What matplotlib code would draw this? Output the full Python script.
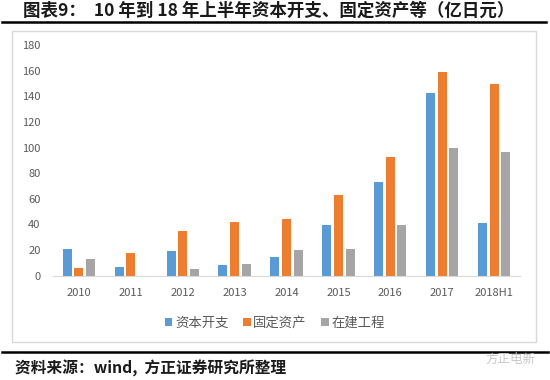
import matplotlib
matplotlib.use('Agg')
import matplotlib.pyplot as plt
from matplotlib.patches import Rectangle
from matplotlib.lines import Line2D
import numpy as np

plt.rcParams['font.family'] = ['Noto Sans CJK SC', 'DejaVu Sans']

# ── Data (亿日元) ──────────────────────────────────────────────────────────
years = ['2010', '2011', '2012', '2013', '2014', '2015', '2016', '2017', '2018H1']
capex = [21, 7, 19, 8, 15, 40, 73, 143, 41]          # 资本开支
fixed_assets = [6, 18, 35, 42, 44, 63, 93, 159, 150]  # 固定资产
in_progress = [13, 0, 5, 9, 20, 21, 40, 100, 97]      # 在建工程

series = [('资本开支', capex, '#5B9BD5'),
          ('固定资产', fixed_assets, '#ED7D31'),
          ('在建工程', in_progress, '#A5A5A5')]

W, H = 550, 380
fig = plt.figure(figsize=(W / 100, H / 100), dpi=100, facecolor='white')

def fx(px): return px / W
def fy(py): return 1 - py / H

# chart frame
fig.patches.append(Rectangle((fx(12), fy(342)), fx(536) - fx(12), fy(31) - fy(342),
                             transform=fig.transFigure, fill=False,
                             edgecolor='#D9D9D9', linewidth=1))

ax = fig.add_axes([fx(53), fy(275.7), fx(520) - fx(53), fy(45.3) - fy(275.7)])
x = np.arange(len(years))
bw, slot = 0.175, 0.225
for i, (name, vals, col) in enumerate(series):
    ax.bar(x + (i - 1) * slot, vals, width=bw, color=col, label=name, zorder=2)

ax.set_xlim(-0.5, len(years) - 0.5)
ax.set_ylim(0, 180)
ax.set_yticks(range(0, 181, 20))
ax.set_xticks(x)
ax.set_xticklabels(years)
for s in ['top', 'right', 'left']:
    ax.spines[s].set_visible(False)
ax.spines['bottom'].set_color('#D9D9D9')
ax.tick_params(axis='both', length=0, labelsize=8, colors='#595959')
ax.tick_params(axis='y', pad=9)
ax.tick_params(axis='x', pad=9)

leg = fig.legend(loc='center', bbox_to_anchor=(fx(275), fy(323)), ncol=3,
                 frameon=False, fontsize=9.6, handlelength=0.55, handleheight=0.55,
                 handletextpad=0.2, columnspacing=1.1)
for t in leg.get_texts():
    t.set_color('#595959')

# title and rules
fig.text(fx(23), fy(11), '图表9：  10 年到 18 年上半年资本开支、固定资产等（亿日元）',
         fontsize=12.6, fontweight='bold', color='#1a1a1a', va='center', ha='left')
fig.add_artist(Line2D([fx(2), fx(546)], [fy(22), fy(22)], color='black', linewidth=1.8))
fig.add_artist(Line2D([fx(2), fx(548)], [fy(352), fy(352)], color='black', linewidth=1.8))

fig.text(fx(15), fy(368), '资料来源：wind,  方正证券研究所整理', fontsize=11.3,
         fontstyle='italic', fontweight='bold', color='#1a1a1a', va='center', ha='left')
fig.text(fx(535), fy(359), '方正电新', fontsize=9, color='#C8C8C8',
         va='center', ha='right')

fig.savefig('out.png', dpi=100, facecolor='white')
plt.close()
